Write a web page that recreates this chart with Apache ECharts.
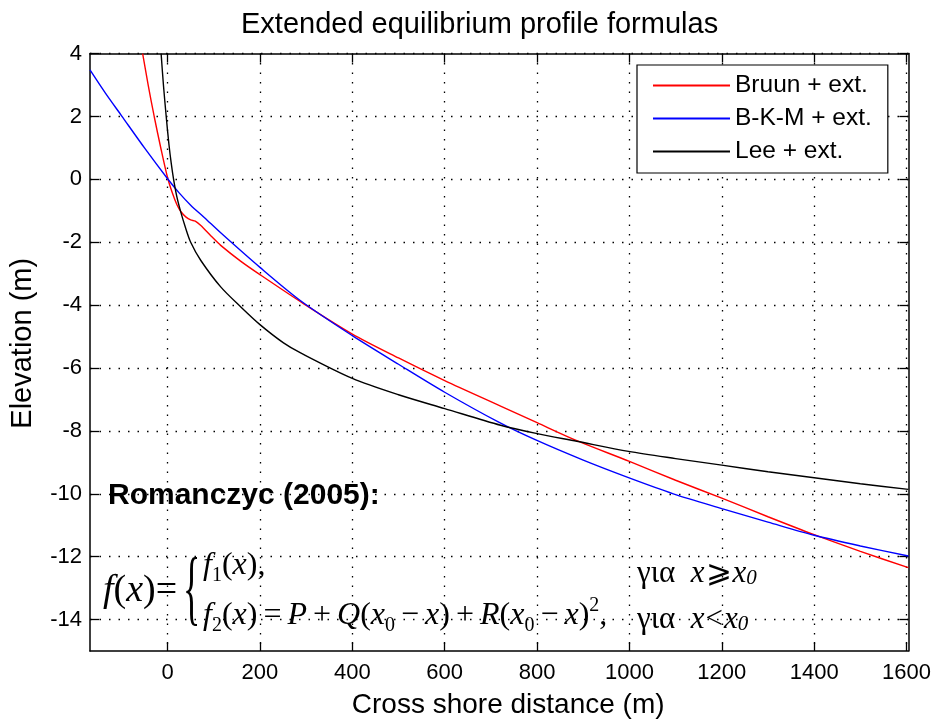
<!DOCTYPE html>
<html>
<head>
<meta charset="utf-8">
<script src="https://cdn.jsdelivr.net/npm/echarts@6/dist/echarts.min.js"></script>
<style>
  html, body { margin: 0; padding: 0; background: #ffffff; }
  #chart { width: 934px; height: 724px; }
</style>
</head>
<body>
<div id="chart"></div>
<script>
// Equilibrium beach profiles: cross-shore distance (m) vs elevation (m)
const bruunX = [-54, -42, -29, -14, 0, 10, 20, 29, 40, 50, 60, 72, 94, 115, 158, 200, 294, 400, 500, 600, 721, 800, 886, 1000, 1100, 1200, 1300, 1400, 1500, 1604];
const bruunY = [4.0, 3.0, 2.0, 0.95, 0.05, -0.42, -0.8, -1.03, -1.2, -1.29, -1.33, -1.47, -1.8, -2.1, -2.6, -3.03, -3.95, -4.92, -5.68, -6.40, -7.21, -7.74, -8.31, -8.97, -9.57, -10.14, -10.73, -11.30, -11.83, -12.35];

const bkmX = [-168, -135, -100, -50, 0, 25, 50, 80, 115, 200, 288, 400, 500, 600, 718, 796, 900, 995, 1095, 1200, 1300, 1400, 1500, 1604];
const bkmY = [3.48, 2.75, 2.03, 1.0, 0.02, -0.43, -0.82, -1.22, -1.70, -2.80, -3.86, -4.97, -5.88, -6.77, -7.73, -8.28, -8.93, -9.47, -10.0, -10.47, -10.90, -11.32, -11.66, -11.98];

const leeX = [-14, -9, -3, 3, 8, 13, 20, 28, 38, 50, 72, 115, 158, 200, 251, 288, 400, 500, 600, 721, 798, 886, 998, 1100, 1200, 1300, 1400, 1500, 1604];
const leeY = [4.0, 3.0, 2.0, 1.1, 0.5, 0.0, -0.55, -1.01, -1.5, -2.0, -2.58, -3.42, -4.05, -4.62, -5.2, -5.52, -6.33, -6.85, -7.29, -7.82, -8.08, -8.33, -8.65, -8.88, -9.09, -9.30, -9.49, -9.68, -9.86];

const seriesNames = ['Bruun + ext.', 'B-K-M + ext.', 'Lee + ext.'];
const seriesColors = ['#ff0000', '#0000ff', '#000000'];

const xTicks = [0, 200, 400, 600, 800, 1000, 1200, 1400, 1600];
const yTicks = [-14, -12, -10, -8, -6, -4, -2, 0, 2, 4];
const xRange = [-168, 1604];
const yRange = [-15, 4];

const sans = "'Liberation Sans', Arial, Helvetica, sans-serif";
const serif = "'Liberation Serif', 'Times New Roman', 'DejaVu Serif', serif";

function pairs(xs, ys) { return xs.map((x, i) => [x, ys[i]]); }
const plain = v => String(v);

const frameLine = { color: '#000', width: 1.5 };
const tickLine = { color: '#000', width: 1.3 };
const dotted = { color: '#000', width: 1.3, type: [1.5, 8] };

function xAxisDef(pos, main) {
  return {
    type: 'value', position: pos, min: xRange[0], max: xRange[1],
    name: main ? 'Cross shore distance (m)' : '',
    nameLocation: 'middle', nameGap: 40,
    nameTextStyle: { fontFamily: sans, fontSize: 28, color: '#000', padding: [0, 0, 0, 18] },
    axisLine: { show: true, onZero: false, lineStyle: frameLine },
    axisTick: { show: true, inside: true, length: 9, customValues: xTicks, lineStyle: tickLine },
    axisLabel: { show: main, customValues: xTicks, formatter: plain, margin: 11, fontFamily: sans, fontSize: 22, color: '#000' },
    splitLine: { show: main, lineStyle: dotted }
  };
}
function yAxisDef(pos, main) {
  return {
    type: 'value', position: pos, min: yRange[0], max: yRange[1],
    name: main ? 'Elevation (m)' : '',
    nameLocation: 'middle', nameGap: 53,
    nameTextStyle: { fontFamily: sans, fontSize: 29, color: '#000', padding: [0, 0, 0, 18] },
    axisLine: { show: true, onZero: false, lineStyle: frameLine },
    axisTick: { show: true, inside: true, length: 9, customValues: yTicks, lineStyle: tickLine },
    axisLabel: { show: main, customValues: yTicks, formatter: plain, margin: 8, fontFamily: sans, fontSize: 22, color: '#000' },
    splitLine: { show: main, lineStyle: dotted }
  };
}

function lineSeries(name, xs, ys, color) {
  return {
    name: name, type: 'line', data: pairs(xs, ys),
    symbol: 'none', showSymbol: false, smooth: 0.3, clip: true,
    lineStyle: { color: color, width: 1.4 }, itemStyle: { color: color },
    emphasis: { disabled: true }
  };
}

// rich-text styles for the formula
const fs = 32;
const mathRich = {
  i: { fontFamily: serif, fontStyle: 'italic', fontSize: fs, fill: '#000', lineHeight: 40 },
  r: { fontFamily: serif, fontSize: fs, fill: '#000', lineHeight: 40 },
  o: { fontFamily: serif, fontSize: fs, fill: '#000', lineHeight: 40, padding: [0, 6, 0, 6] },
  s: { fontFamily: serif, fontSize: 20, fill: '#000', verticalAlign: 'bottom' },
  p: { fontFamily: serif, fontSize: 20, fill: '#000', verticalAlign: 'top' }
};
const condRich = {
  g: { fontFamily: serif, fontSize: 31, fill: '#000' },
  i: { fontFamily: serif, fontStyle: 'italic', fontSize: 31, fill: '#000' },
  r: { fontFamily: serif, fontSize: 31, fill: '#000', padding: [0, 1, 0, 1] },
  s: { fontFamily: serif, fontStyle: 'italic', fontSize: 21, fill: '#000', verticalAlign: 'bottom' }
};
const bigRich = {
  i: { fontFamily: serif, fontStyle: 'italic', fontSize: 38, fill: '#000' },
  r: { fontFamily: serif, fontSize: 38, fill: '#000' }
};

function txt(x, y, text, extra) {
  return {
    type: 'text', x: x, y: y, z: 50, silent: true,
    style: Object.assign({ text: text, fill: '#000', align: 'left', verticalAlign: 'middle' }, extra)
  };
}

const chart = echarts.init(document.getElementById('chart'), null, { renderer: 'canvas' });
chart.setOption({
  animation: false,
  backgroundColor: '#ffffff',
  title: {
    text: 'Extended equilibrium profile formulas',
    left: 241, top: 8, padding: 0,
    textStyle: { fontFamily: sans, fontSize: 29, fontWeight: 'normal', color: '#000', lineHeight: 34 }
  },
  grid: { left: 89, top: 53.6, width: 820, height: 605, containLabel: false },
  xAxis: [xAxisDef('bottom', true), xAxisDef('top', false)],
  yAxis: [yAxisDef('left', true), yAxisDef('right', false)],
  legend: {
    orient: 'vertical', left: 637, top: 65,
    itemWidth: 77, itemHeight: 2, itemGap: 2, icon: 'rect',
    padding: [5, 16, 6, 16],
    backgroundColor: '#ffffff', borderColor: '#000', borderWidth: 1.2, borderRadius: 0,
    selectedMode: false,
    textStyle: { fontFamily: sans, fontSize: 24.5, color: '#000', lineHeight: 31 },
    data: seriesNames
  },
  series: [
    lineSeries(seriesNames[0], bruunX, bruunY, seriesColors[0]),
    lineSeries(seriesNames[1], bkmX, bkmY, seriesColors[1]),
    lineSeries(seriesNames[2], leeX, leeY, seriesColors[2])
  ],
  graphic: [
    txt(108, 495.5, 'Romanczyc (2005):', { fontFamily: sans, fontSize: 30, fontWeight: 'bold' }),
    txt(103, 591, '{i|f}{r|(}{i|x}{r|)=}', { rich: bigRich }),
    {
      type: 'text', x: 183, y: 593, scaleY: 2.3, z: 50, silent: true,
      style: { text: '{', fill: '#000', fontFamily: serif, fontSize: 36, align: 'left', verticalAlign: 'middle' }
    },
    txt(203, 566, '{i|f}{s|1}{r|(}{i|x}{r|),}', { rich: mathRich }),
    txt(203, 616, '{i|f}{s|2}{r|(}{i|x}{r|)}{o|=}{i|P}{o|+}{i|Q}{r|(}{i|x}{s|0}{o|\u2212}{i|x}{r|)}{o|+}{i|R}{r|(}{i|x}{s|0}{o|\u2212}{i|x}{r|)}{p|2}{r|,}', { rich: mathRich }),
    txt(637, 573.5, '{g|\u03b3\u03b9\u03b1}{g|  }{i|x}{r|\u2a7e}{i|x}{s|0}', { rich: condRich }),
    txt(637, 619.5, '{g|\u03b3\u03b9\u03b1}{g|  }{i|x}{r|<}{i|x}{s|0}', { rich: condRich })
  ]
});
</script>
</body>
</html>
